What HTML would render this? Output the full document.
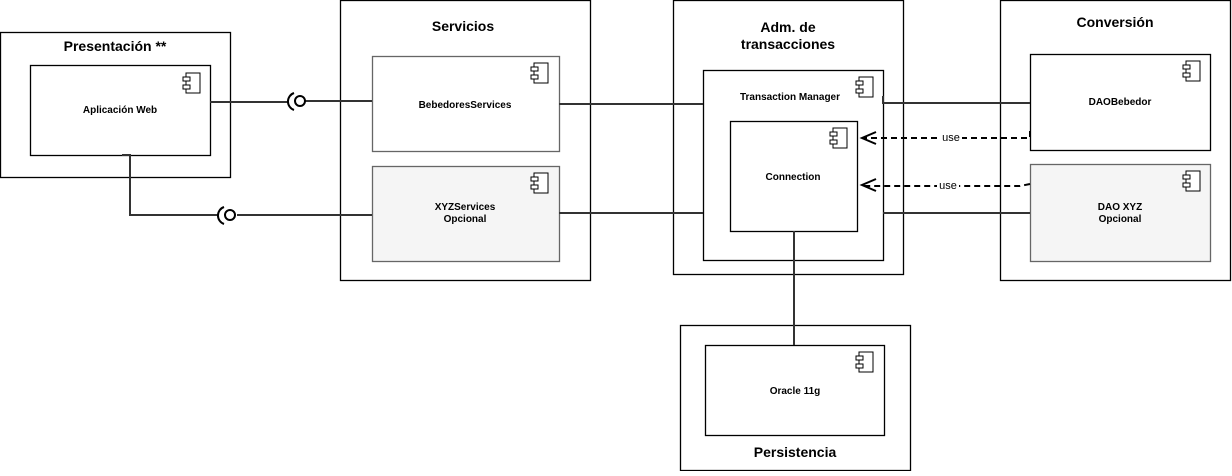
<!DOCTYPE html>
<html><head><style>
body{margin:0;background:#fff;}
svg text{font-family:"Liberation Sans",sans-serif;font-weight:bold;fill:#000;}
</style></head><body>
<svg width="1232" height="471" xmlns="http://www.w3.org/2000/svg">
<defs>
<g id="ic"><rect x="3" y="0" width="14" height="20" fill="#fff" stroke="#000"/><rect x="0" y="4" width="7" height="4" fill="#fff" stroke="#000"/><rect x="0" y="12" width="7" height="4" fill="#fff" stroke="#000"/></g>
</defs>
<g fill="#fff" stroke="#000" stroke-width="1.3">
<rect x="0.5" y="32.5" width="230" height="145"/>
<rect x="340.5" y="0.5" width="250" height="280"/>
<rect x="673.5" y="0.5" width="230" height="274"/>
<rect x="1000.5" y="0.5" width="230" height="280"/>
<rect x="680.5" y="325.5" width="230" height="145"/>
</g>
<g fill="#fff" stroke="#000" stroke-width="1.3">
<rect x="30.5" y="65.5" width="180" height="90"/>
<rect x="372.5" y="56.5" width="187" height="95" stroke="#666"/>
<rect x="372.5" y="166.5" width="187" height="95" fill="#f5f5f5" stroke="#666"/>
<rect x="703.5" y="70.5" width="180" height="190"/>
<rect x="730.5" y="121.5" width="127" height="110"/>
<rect x="1030.5" y="54.5" width="180" height="96"/>
<rect x="1030.5" y="164.5" width="180" height="97" fill="#f5f5f5" stroke="#666"/>
<rect x="705.5" y="345.5" width="179" height="90"/>
</g>
<g stroke="#333" stroke-width="2" fill="none">
<path d="M210 102H288M305 101H372M122 155H130V215H218M237 215H372"/>
<path d="M559 104H703M559 213H703M883 96V103H1030M883 213H1030M794 231V345"/>
</g>
<g stroke="#000" stroke-width="2" fill="#fff">
<circle cx="300" cy="101" r="5"/><path d="M294 93A9 9 0 0 0 294 110" fill="none"/>
<circle cx="230" cy="215" r="5"/><path d="M224 207A9 9 0 0 0 224 224" fill="none"/>
</g>
<g stroke="#000" stroke-width="2" fill="none">
<path d="M1030 131V138H863" stroke-dasharray="6,4"/>
<path d="M876 132L862 138L876 144"/>
<path d="M1030 184L1020 186H863" stroke-dasharray="6,4"/>
<path d="M876 179L862 185L876 191"/>
</g>
<rect x="940" y="131" width="22" height="12" fill="#fff"/>
<rect x="937" y="179" width="22" height="12" fill="#fff"/>
<text x="951" y="141" font-size="11" text-anchor="middle" style="font-weight:normal">use</text>
<text x="948" y="189" font-size="11" text-anchor="middle" style="font-weight:normal">use</text>
<use href="#ic" x="183" y="73"/><use href="#ic" x="531" y="63"/><use href="#ic" x="531" y="173"/>
<use href="#ic" x="856" y="77"/><use href="#ic" x="830" y="128"/><use href="#ic" x="1183" y="61"/>
<use href="#ic" x="1183" y="171"/><use href="#ic" x="856" y="352"/>
<g font-size="14" text-anchor="middle">
<text x="115" y="51">Presentación **</text>
<text x="463" y="31">Servicios</text>
<text x="788" y="32">Adm. de</text><text x="788" y="49">transacciones</text>
<text x="1115" y="27">Conversión</text>
<text x="795" y="457">Persistencia</text>
</g>
<g font-size="10" text-anchor="middle">
<text x="120" y="113">Aplicación Web</text>
<text x="465" y="108">BebedoresServices</text>
<text x="465" y="210">XYZServices</text><text x="465" y="222">Opcional</text>
<text x="790" y="100">Transaction Manager</text>
<text x="793" y="180">Connection</text>
<text x="1120" y="105">DAOBebedor</text>
<text x="1120" y="210">DAO XYZ</text><text x="1120" y="222">Opcional</text>
<text x="795" y="394">Oracle 11g</text>
</g>
</svg>
</body></html>
